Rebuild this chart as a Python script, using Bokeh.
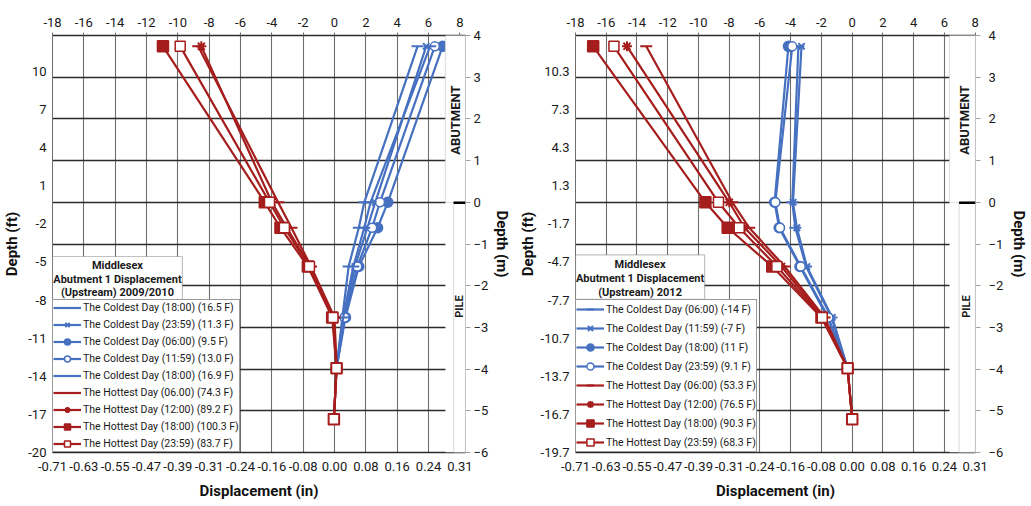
from bokeh.plotting import figure
from bokeh.models import (Range1d, LinearAxis, FixedTicker, Grid, Legend, LegendItem,
                          Label, BoxAnnotation)
from bokeh.layouts import row
from bokeh.embed import file_html
from bokeh.resources import INLINE

# ---------------- data ----------------
mm_ticks = [-18, -16, -14, -12, -10, -8, -6, -4, -2, 0, 2, 4, 6, 8]
in_labels = ["-0.71", "-0.63", "-0.55", "-0.47", "-0.39", "-0.31", "-0.24",
             "-0.16", "-0.08", "0.00", "0.08", "0.16", "0.24", "0.31"]
m_ticks = [-6, -5, -4, -3, -2, -1, 0, 1, 2, 3, 4]
ft_ticks = [-19.7, -16.7, -13.7, -10.7, -7.7, -4.7, -1.7, 1.3, 4.3, 7.3, 10.3]
ft_labels_2010 = ["-20", "-17", "-14", "-11", "-8", "-5", "-2", "1", "4", "7", "10"]
ft_labels_2012 = ["-19.7", "-16.7", "-13.7", "-10.7", "-7.7", "-4.7", "-1.7",
                  "1.3", "4.3", "7.3", "10.3"]

depth_m = [3.74, 0.0, -0.61, -1.54, -2.76, -3.98, -5.2]

title_2010 = ["Middlesex", "Abutment 1 Displacement", "(Upstream) 2009/2010"]
title_2012 = ["Middlesex", "Abutment 1 Displacement", "(Upstream) 2012"]

names_2010 = ["The Coldest Day (18:00) (16.5 F)",
              "The Coldest Day (23:59) (11.3 F)",
              "The Coldest Day (06:00) (9.5 F)",
              "The Coldest Day (11:59) (13.0 F)",
              "The Coldest Day (18:00) (16.9 F)",
              "The Hottest Day (06.00) (74.3 F)",
              "The Hottest Day (12:00) (89.2 F)",
              "The Hottest Day (18:00) (100.3 F)",
              "The Hottest Day (23:59) (83.7 F)"]
cold_1800a_2010 = [5.3, 1.9, 1.55, 0.9, 0.5, 0.13]
cold_2359_2010 = [5.85, 2.6, 2.1, 1.3, 0.6, 0.13]
cold_0600_2010 = [6.9, 3.4, 2.75, 1.55, 0.7, 0.13]
cold_1159_2010 = [6.4, 2.9, 2.4, 1.45, 0.65, 0.13]
cold_1800b_2010 = [6.1, 2.3, 1.9, 1.2, 0.55, 0.13]
hot_0600_2010 = [-8.7, -3.6, -2.75, -1.5, 0.0, 0.13, -0.04]
hot_1200_2010 = [-8.5, -4.0, -3.05, -1.55, -0.05, 0.13, -0.04]
hot_1800_2010 = [-10.95, -4.45, -3.45, -1.7, -0.15, 0.13, -0.04]
hot_2359_2010 = [-9.85, -4.15, -3.2, -1.6, -0.1, 0.13, -0.04]

names_2012 = ["The Coldest Day (06:00) (-14 F)",
              "The Coldest Day (11:59) (-7 F)",
              "The Coldest Day (18:00) (11 F)",
              "The Coldest Day (23:59) (9.1 F)",
              "The Hottest Day (06:00) (53.3 F)",
              "The Hottest Day (12:00) (76.5 F)",
              "The Hottest Day (18:00) (90.3 F)",
              "The Hottest Day (23:59) (68.3 F)"]
cold_0600_2012 = [-3.5, -3.9, -3.7, -3.0, -1.35, -0.3]
cold_1159_2012 = [-3.3, -3.85, -3.6, -2.95, -1.3, -0.3]
cold_1800_2012 = [-4.15, -5.05, -4.75, -3.4, -1.6, -0.3]
cold_2359_2012 = [-3.9, -5.0, -4.7, -3.35, -1.55, -0.3]
hot_0600_2012 = [-13.4, -7.8, -6.7, -4.4, -1.8, -0.3, 0.0]
hot_1200_2012 = [-14.65, -8.0, -7.0, -4.6, -1.9, -0.3, 0.0]
hot_1800_2012 = [-16.85, -9.55, -8.1, -5.2, -2.0, -0.3, 0.0]
hot_2359_2012 = [-15.5, -8.7, -7.35, -4.9, -1.95, -0.3, 0.0]

# ---------------- style ----------------
BLUE = "#4670C0"
RED = "#A51D1D"
FONT = "Roboto"
HGRID = "#2b2b2b"
VGRID = "#6e6e6e"
BOXLINE = "#a0a0a0"

series_2010 = [
    (names_2010[0], cold_1800a_2010, BLUE, "dash", True, 12),
    (names_2010[1], cold_2359_2010, BLUE, "x", True, 9),
    (names_2010[2], cold_0600_2010, BLUE, "circle", True, 10),
    (names_2010[3], cold_1159_2010, BLUE, "circle", False, 9),
    (names_2010[4], cold_1800b_2010, BLUE, "dash", True, 12),
    (names_2010[5], hot_0600_2010, RED, "dash", True, 12),
    (names_2010[6], hot_1200_2010, RED, "asterisk", True, 10),
    (names_2010[7], hot_1800_2010, RED, "square", True, 11),
    (names_2010[8], hot_2359_2010, RED, "square", False, 10),
]
series_2012 = [
    (names_2012[0], cold_0600_2012, BLUE, "dash", True, 12),
    (names_2012[1], cold_1159_2012, BLUE, "x", True, 9),
    (names_2012[2], cold_1800_2012, BLUE, "circle", True, 10),
    (names_2012[3], cold_2359_2012, BLUE, "circle", False, 9),
    (names_2012[4], hot_0600_2012, RED, "dash", True, 12),
    (names_2012[5], hot_1200_2012, RED, "asterisk", True, 10),
    (names_2012[6], hot_1800_2012, RED, "square", True, 11),
    (names_2012[7], hot_2359_2012, RED, "square", False, 10),
]


def make_panel(series, ft_labels, title_lines, width, borders, xmax, geo, leg):
    bl, br, bt, bb = borders
    p = figure(width=width, height=506, x_range=Range1d(-18, xmax), y_range=Range1d(-6, 4),
               x_axis_type=None, y_axis_type=None, output_backend="svg",
               toolbar_location=None, min_border_left=bl, min_border_right=br,
               min_border_top=bt, min_border_bottom=bb)
    p.outline_line_color = None
    p.background_fill_color = "white"
    p.extra_y_ranges = {"ft": Range1d(-19.7, 13.12)}

    # axes
    top = LinearAxis(ticker=FixedTicker(ticks=mm_ticks))
    top.major_label_overrides = {t: str(t) for t in mm_ticks}
    top.major_tick_out = 3
    top.major_tick_in = 0
    top.major_tick_line_color = VGRID
    top.major_label_standoff = 6
    top.axis_line_color = HGRID
    top.axis_line_width = 1.3

    bottom = LinearAxis(ticker=FixedTicker(ticks=mm_ticks), axis_label="Displacement (in)")
    bottom.major_label_overrides = dict(zip(mm_ticks, in_labels))
    bottom.major_tick_out = 0
    bottom.major_tick_in = 0
    bottom.major_label_standoff = 9
    bottom.axis_line_color = HGRID
    bottom.axis_line_width = 1.3
    bottom.axis_label_standoff = 8

    left = LinearAxis(y_range_name="ft", ticker=FixedTicker(ticks=ft_ticks), axis_label="Depth (ft)")
    left.major_label_overrides = dict(zip(ft_ticks, ft_labels))
    left.major_tick_out = 0
    left.major_tick_in = 0
    left.major_label_standoff = 6
    left.axis_line_color = VGRID
    left.axis_label_standoff = geo["left_title_standoff"]

    right = LinearAxis(ticker=FixedTicker(ticks=m_ticks), axis_label="Depth (m)")
    right.major_tick_out = 5
    right.major_tick_in = 0
    right.major_tick_line_color = BOXLINE
    right.axis_line_color = BOXLINE
    right.major_label_standoff = geo["right_label_standoff"]
    right.axis_label_standoff = geo["right_title_standoff"]

    for ax in (top, bottom, left, right):
        ax.major_label_text_font = FONT
        ax.major_label_text_font_size = "13px"
        ax.major_label_text_color = "#1a1a1a"
        ax.axis_label_text_font = FONT
        ax.axis_label_text_font_size = "15px"
        ax.axis_label_text_font_style = "bold"
        ax.axis_label_text_color = "#111111"
    p.add_layout(top, "above")
    p.add_layout(bottom, "below")
    p.add_layout(left, "left")
    p.add_layout(right, "right")

    p.add_layout(Grid(dimension=0, ticker=FixedTicker(ticks=mm_ticks),
                      grid_line_color=VGRID, grid_line_width=1.1))
    p.add_layout(Grid(dimension=1, ticker=FixedTicker(ticks=m_ticks),
                      grid_line_color=HGRID, grid_line_width=1.3))

    # data
    items = []
    for name, xs, color, marker, filled, size in series:
        ys = depth_m[:len(xs)]
        lr = p.line(xs, ys, line_color=color, line_width=2.2)
        sr = p.scatter(xs, ys, marker=marker, size=size, line_color=color,
                       line_width=2 if marker in ("dash", "x", "asterisk") else 1.5,
                       fill_color=color if filled else "white")
        items.append(LegendItem(label=name, renderers=[lr, sr]))

    # abutment / pile boxes
    ab_x, pile_x = geo["ab_x"], geo["pile_x"]
    p.add_layout(BoxAnnotation(left=ab_x, right=xmax, bottom=-6, top=4,
                               fill_color="white", fill_alpha=1, line_color=None))
    p.add_layout(BoxAnnotation(left=ab_x, right=xmax, bottom=0, top=4,
                               fill_color="white", fill_alpha=1, line_color=BOXLINE,
                               line_width=1.3))
    p.add_layout(BoxAnnotation(left=pile_x, right=xmax, bottom=-6, top=0,
                               fill_color="white", fill_alpha=1, line_color=BOXLINE,
                               line_width=1.3))
    p.add_layout(BoxAnnotation(left=pile_x, right=xmax, bottom=-0.04, top=0.02,
                               fill_color="black", fill_alpha=1, line_color=None))
    p.add_layout(Label(x=geo["ab_text_x"], y=1.97, text="ABUTMENT", angle=1.5708,
                       text_align="center", text_baseline="middle", text_font=FONT,
                       text_font_size="13px", text_font_style="bold", text_color="#1a1a1a"))
    p.add_layout(Label(x=geo["pile_text_x"], y=-2.5, text="PILE", angle=1.5708,
                       text_align="center", text_baseline="middle", text_font=FONT,
                       text_font_size="11px", text_font_style="bold", text_color="#1a1a1a"))

    # legend title box
    tb = geo["title_box"]
    p.add_layout(BoxAnnotation(left=-18, right=tb[0], top=tb[1], bottom=tb[2],
                               fill_color="white", fill_alpha=1, line_color="#333333",
                               line_width=1.2))
    for ty, txt in zip(geo["title_y"], title_lines):
        p.add_layout(Label(x=(-18 + tb[0]) / 2, y=ty, text=txt, text_align="center",
                           text_baseline="middle", text_font=FONT, text_font_size="11px",
                           text_font_style="bold", text_color="#1a1a1a"))

    legend = Legend(items=items, location=(0, 0), padding=leg["padding"],
                    spacing=leg["spacing"], glyph_height=leg["gh"], label_height=leg["gh"],
                    glyph_width=leg["gw"], label_standoff=2, margin=0,
                    label_text_font=FONT, label_text_font_size="10.5px",
                    label_text_color="#1a1a1a", border_line_color="#333333",
                    border_line_width=1.2, background_fill_color="white",
                    background_fill_alpha=1)
    p.add_layout(legend)
    return p


p1 = make_panel(series_2010, ft_labels_2010, title_2010, 515, (52, 50, 35, 53), 8.36,
                dict(left_title_standoff=4, right_label_standoff=3, right_title_standoff=2,
                     ab_x=7.08, pile_x=7.6, ab_text_x=7.75, pile_text_x=8.0,
                     title_box=(-9.71, -1.30, -2.34), title_y=(-1.52, -1.85, -2.16)),
                dict(padding=0, spacing=2, gh=15, gw=28))
p2 = make_panel(series_2012, ft_labels_2012, title_2012, 516, (57, 54, 28, 54), 8.02,
                dict(left_title_standoff=1, right_label_standoff=8, right_title_standoff=4,
                     ab_x=6.33, pile_x=6.95, ab_text_x=7.3, pile_text_x=7.42,
                     title_box=(-9.6, -1.26, -2.33), title_y=(-1.49, -1.82, -2.16)),
                dict(padding=0, spacing=1, gh=18, gw=28))

layout = row(p1, p2)
open("out.html", "w").write(file_html(layout, INLINE))
